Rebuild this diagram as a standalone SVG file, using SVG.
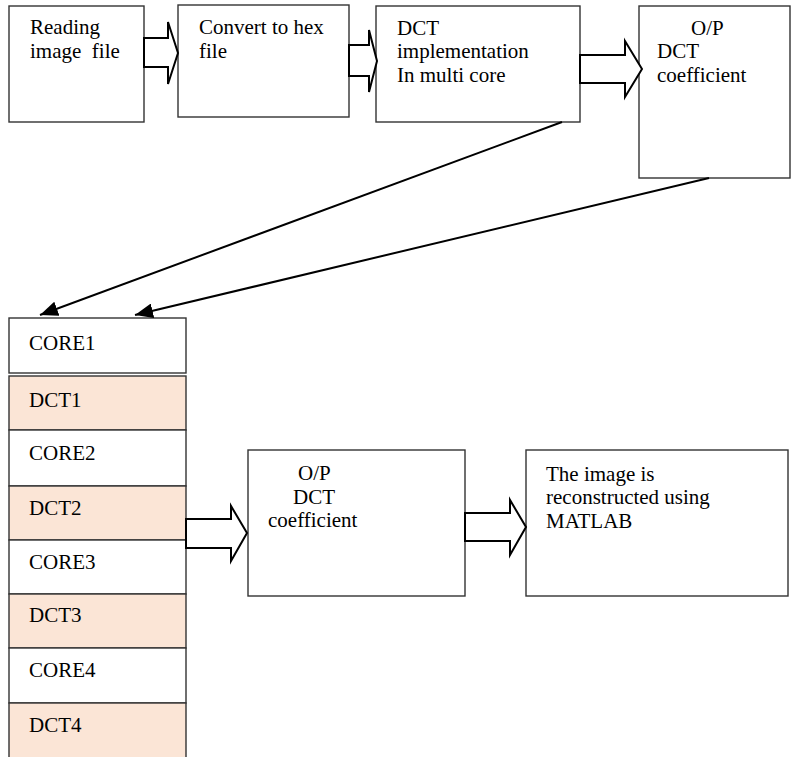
<svg xmlns="http://www.w3.org/2000/svg" width="791" height="757" viewBox="0 0 791 757">
<style>
.box{fill:#fff;stroke:#333;stroke-width:1.4}
.dct{fill:#fbe5d6;stroke:#333;stroke-width:1.4}
.blk{fill:#fff;stroke:#000;stroke-width:2;stroke-linejoin:miter}
.ln{fill:none;stroke:#000;stroke-width:2}
text{font-family:'Liberation Serif','Tinos','DejaVu Serif','Noto Serif',serif;font-size:21px;fill:#000}
</style>
<defs>
<marker id="ah" viewBox="0 0 10 10" refX="10" refY="5" markerWidth="9" markerHeight="7.5" markerUnits="strokeWidth" orient="auto" preserveAspectRatio="none">
<path d="M0,0 L10,5 L0,10 z" fill="#000"/>
</marker>
</defs>
<rect width="791" height="757" fill="#fff"/>

<g id="n-read">
<rect class="box" x="9" y="6" width="135" height="116"/>
<text x="30" y="34">Reading</text>
<text x="30" y="58" xml:space="preserve">image  file</text>
</g>
<g id="n-hex">
<rect class="box" x="178" y="5" width="171" height="112"/>
<text x="199" y="34">Convert to hex</text>
<text x="199" y="58">file</text>
</g>
<g id="n-dct">
<rect class="box" x="376" y="6" width="204" height="116"/>
<text x="397" y="35">DCT</text>
<text x="397" y="58">implementation</text>
<text x="397" y="82">In multi core</text>
</g>
<g id="n-op1">
<rect class="box" x="639" y="6" width="151" height="172"/>
<text x="691" y="35">O/P</text>
<text x="657" y="58">DCT</text>
<text x="657" y="82">coefficient</text>
</g>

<g id="n-stack">
<rect class="box" x="9" y="318" width="177" height="55"/>
<text x="29" y="350">CORE1</text>
<rect class="dct" x="9" y="376" width="177" height="54"/>
<text x="29" y="407">DCT1</text>
<rect class="box" x="9" y="430" width="177" height="56"/>
<text x="29" y="460">CORE2</text>
<rect class="dct" x="9" y="486" width="177" height="54"/>
<text x="29" y="515">DCT2</text>
<rect class="box" x="9" y="540" width="177" height="54"/>
<text x="29" y="569">CORE3</text>
<rect class="dct" x="9" y="594" width="177" height="54"/>
<text x="29" y="622">DCT3</text>
<rect class="box" x="9" y="648" width="177" height="55"/>
<text x="29" y="677">CORE4</text>
<rect class="dct" x="9" y="703" width="177" height="56"/>
<text x="29" y="732">DCT4</text>
</g>

<g id="n-op2">
<rect class="box" x="248" y="450" width="217" height="146"/>
<text x="298" y="480">O/P</text>
<text x="293" y="504">DCT</text>
<text x="268" y="527">coefficient</text>
</g>
<g id="n-matlab">
<rect class="box" x="526" y="450" width="262" height="146"/>
<text x="546" y="481">The image is</text>
<text x="546" y="504">reconstructed using</text>
<text x="546" y="528">MATLAB</text>
</g>

<g id="connectors">
<polygon class="blk" points="144,38 168,38 168,22 178,53 168,84 168,67 144,67"/>
<polygon class="blk" points="349,45 369,45 369,30 377,61 369,92 369,76 349,76"/>
<polygon class="blk" points="580,55 625,55 625,41 642,69 625,97 625,83 580,83"/>
<polygon class="blk" points="186,519 231,519 231,506 247,533 231,561 231,548 186,548"/>
<polygon class="blk" points="465,513 510,513 510,500 526,527 510,555 510,541 465,541"/>
<line class="ln" x1="562" y1="122" x2="40" y2="315" marker-end="url(#ah)"/>
<line class="ln" x1="709" y1="178" x2="135" y2="315" marker-end="url(#ah)"/>
</g>
</svg>
